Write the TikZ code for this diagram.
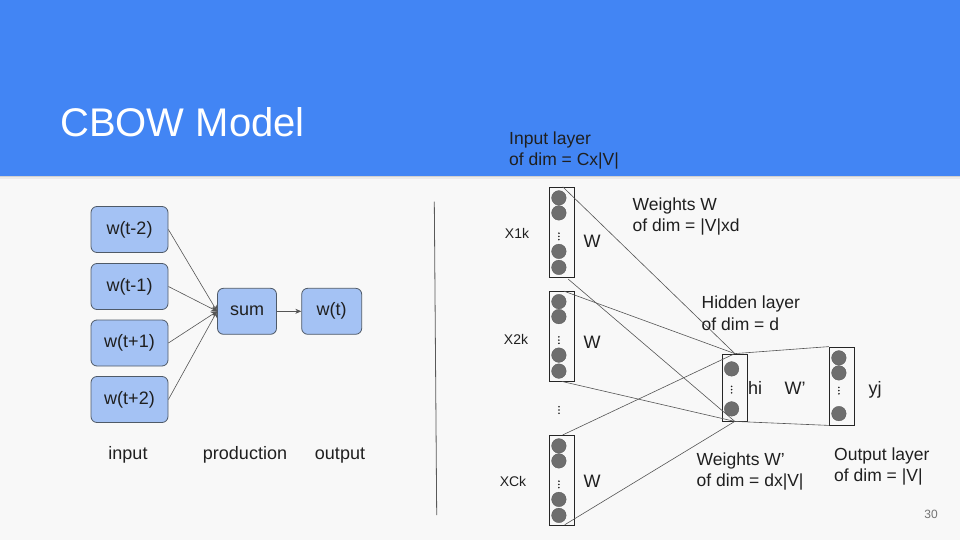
\documentclass[tikz,border=0pt]{standalone}
\usepackage{fontspec}
\setmainfont{Liberation Sans}
\usetikzlibrary{arrows.meta,calc}
\definecolor{hdr}{HTML}{4285F4}
\definecolor{bg}{HTML}{F8F8F8}
\definecolor{boxfill}{HTML}{A4C2F4}
\definecolor{boxdraw}{HTML}{4F5A68}
\definecolor{txt}{HTML}{1F1F1F}
\definecolor{ncol}{HTML}{6E6E6E}
\definecolor{edge}{HTML}{555555}
\tikzset{
  lbl/.style={font=\fontsize{17.5}{21}\selectfont, text=txt, inner sep=0, anchor=base west},
  clbl/.style={font=\fontsize{18}{21}\selectfont, text=txt, inner sep=0},
  blbl/.style={font=\fontsize{18}{21}\selectfont, text=txt, inner sep=0, anchor=base},
  wbox/.style={rounded corners=6pt, fill=boxfill, draw=boxdraw, line width=0.8pt, minimum height=46pt, font=\fontsize{18}{21}\selectfont, text=txt, inner sep=0, text height=12.5pt, text depth=3.5pt},
  layer/.style={draw=black!85, line width=0.8pt, inner sep=0, minimum width=25pt},
  neuron/.style={circle, fill=ncol, draw=ncol!80!black, line width=0.3pt, minimum size=14.6pt, inner sep=0},
  conn/.style={draw=edge, line width=0.6pt},
}
\newcommand{\vdotsat}[1]{\fill[txt] ($#1+(0,-3.2)$) circle (0.9) ($#1$) circle (0.9) ($#1+(0,3.2)$) circle (0.9);}
\begin{document}
\begin{tikzpicture}[x=1pt,y=-1pt]
\useasboundingbox (0,0) rectangle (960,540);
\fill[bg] (0,0) rectangle (960,540);
\fill[hdr] (0,0) rectangle (960,176);
\fill[black!18] (0,176) rectangle (960,177.5);
\fill[black!8] (0,177.5) rectangle (960,179);
\node[anchor=base west, inner sep=0, text=white, font=\fontsize{40}{44}\selectfont] (title) at (60,137) {CBOW Model};

% left diagram
\node[wbox, minimum width=77pt] (wm2) at (129.5,229.5) {w(t-2)};
\node[wbox, minimum width=77pt] (wm1) at (129.5,286.5) {w(t-1)};
\node[wbox, minimum width=77pt] (wp1) at (129.5,343) {w(t+1)};
\node[wbox, minimum width=77pt] (wp2) at (129.5,399.5) {w(t+2)};
\node[wbox, minimum width=59pt] (sum) at (247,311.3) {sum};
\node[wbox, minimum width=60pt] (wt) at (331.7,311.3) {w(t)};
\foreach \s in {wm2,wm1,wp1,wp2}
  \draw[conn, -{Stealth[length=6pt,width=6pt]}] (\s.east) -- (sum.west);
\draw[conn, -{Stealth[length=6pt,width=5pt]}] (sum.east) -- (wt.west);
\node[blbl] (linput) at (128,459) {input};
\node[blbl] (lprod) at (245,459) {production};
\node[blbl] (lout) at (340,459) {output};

% divider
\coordinate (dtop) at (434.3,201.7);
\coordinate (dbot) at (436.7,515);
\draw[draw=black!65, line width=0.8pt] (dtop) -- (dbot);

% right diagram: layer boxes
\node[layer, minimum height=90pt] (in1) at (561.8,232.3) {};
\node[layer, minimum height=90pt] (in2) at (561.8,336) {};
\node[layer, minimum height=90pt] (in3) at (561.8,480.3) {};
\node[layer, minimum height=67pt] (hid) at (734.8,387.5) {};
\node[layer, minimum height=78pt] (out) at (841.8,386) {};

% neurons
\foreach \b in {in1,in2,in3}{
  \node[neuron] (\b n1) at ($(\b.north west)+(10,11)$) {};
  \node[neuron] (\b n2) at ($(\b.north west)+(10,26)$) {};
  \node[neuron] (\b n3) at ($(\b.north west)+(10,64.5)$) {};
  \node[neuron] (\b n4) at ($(\b.north west)+(10,80.5)$) {};
  \vdotsat{(\b.north west)+(10,49.5)}
}
\node[neuron] (hn1) at ($(hid.north west)+(9.7,15.3)$) {};
\node[neuron] (hn2) at ($(hid.north west)+(9.7,55.3)$) {};
\vdotsat{(hid.north west)+(9.7,36)}
\node[neuron] (on1) at ($(out.north west)+(10,11.3)$) {};
\node[neuron] (on2) at ($(out.north west)+(10,26.3)$) {};
\node[neuron] (on3) at ($(out.north west)+(10,67)$) {};
\vdotsat{(out.north west)+(10,44)}
\coordinate (mid) at (559,410);
\vdotsat{(mid)}

% connections
\draw[conn] ($(in1.north)+(1,0)$) -- (hid.north);
\draw[conn] ($(in1.south)+(6.5,1.5)$) -- (hid.south);
\draw[conn] ($(in2.north)+(2,0.5)$) -- (hid.north);
\draw[conn] (in2.south) -- (hid.south);
\draw[conn] ($(in3.north)+(1,0)$) -- (hid.north);
\draw[conn] ($(in3.south)+(3,-1)$) -- (hid.south);
\draw[conn] (hid.north) -- (out.north west);
\draw[conn] (hid.south) -- (out.south west);

% labels
\node[lbl] (il1) at (509,145) {Input layer};
\node[lbl] (il2) at (509,166) {of dim = Cx|V|};
\node[lbl] (ww1) at (632.5,210) {Weights W};
\node[lbl] (ww2) at (632.5,231) {of dim = |V|xd};
\node[lbl] (hl1) at (701.5,308.5) {Hidden layer};
\node[lbl] (hl2) at (701.5,330.5) {of dim = d};
\node[lbl] (wp1l) at (696.5,465) {Weights W’};
\node[lbl] (wp2l) at (696.5,486.5) {of dim = dx|V|};
\node[lbl] (ol1) at (834,460) {Output layer};
\node[lbl] (ol2) at (834,481.5) {of dim = |V|};

\node[font=\fontsize{14}{16}\selectfont, text=txt, inner sep=0] (x1) at (517,233) {X1k};
\node[font=\fontsize{14}{16}\selectfont, text=txt, inner sep=0] (x2) at (516,339) {X2k};
\node[font=\fontsize{14}{16}\selectfont, text=txt, inner sep=0] (x3) at (513,481) {XCk};
\node[clbl] (w1) at (592,241) {W};
\node[clbl] (w2) at (592,342) {W};
\node[clbl] (w3) at (592,481) {W};
\node[blbl] (hi) at (755,394.5) {hi};
\node[blbl] (wpr) at (795,394.5) {W’};
\node[blbl] (yj) at (875,394.5) {yj};

\node[font=\fontsize{12}{14}\selectfont, text=black!55, inner sep=0, anchor=base east] (pg) at (938,518) {30};
\end{tikzpicture}
\end{document}
